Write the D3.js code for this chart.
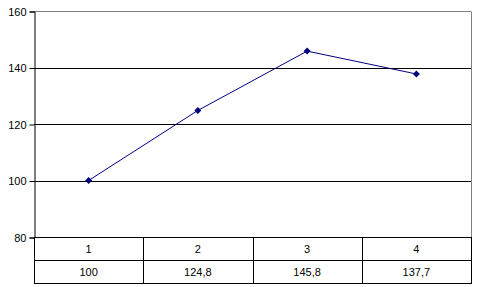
<!DOCTYPE html>
<html>
<head>
<meta charset="utf-8">
<script src="https://cdn.jsdelivr.net/npm/d3@7"></script>
<style>
  body { margin: 0; background: #fff; }
  text { font-family: "Liberation Sans", Arial, sans-serif; font-size: 11px; fill: #000; }
</style>
</head>
<body>
<div class="canvas"></div>
<script>
const categories = ["1", "2", "3", "4"];
const values = [100, 124.8, 145.8, 137.7];
const valueLabels = ["100", "124,8", "145,8", "137,7"];
const yTicks = [80, 100, 120, 140, 160];

const width = 478, height = 287;
const plotLeft = 34, plotRight = 471, plotTop = 11, plotBottom = 237;
const rowH = 23;

const svg = d3.select(".canvas").append("svg")
  .attr("width", width).attr("height", height);

const x = d3.scaleBand().domain(categories).range([plotLeft, plotRight]);
const y = d3.scaleLinear().domain([80, 160]).range([plotBottom, plotTop]);

// gridlines
svg.selectAll("line.grid")
  .data(yTicks.filter(d => d > 80))
  .join("line")
  .attr("class", "grid")
  .attr("x1", plotLeft).attr("x2", plotRight)
  .attr("y1", d => Math.round(y(d)) + 0.5).attr("y2", d => Math.round(y(d)) + 0.5)
  .attr("stroke", d => d === 160 ? "#808080" : "#000")
  .attr("stroke-width", 1);

// right border of plot area
svg.append("line")
  .attr("x1", plotRight + 0.5).attr("x2", plotRight + 0.5)
  .attr("y1", Math.round(y(160)) + 0.5).attr("y2", plotBottom)
  .attr("stroke", "#808080");

// y axis
const yAxis = d3.axisLeft(y).tickValues(yTicks).tickSize(5).tickPadding(3);
const ga = svg.append("g")
  .attr("transform", `translate(${plotLeft + 0.5},0.5)`)
  .call(yAxis);
ga.select(".domain").attr("stroke", "#000");
ga.selectAll(".tick line").attr("stroke", "#000");
ga.selectAll("text").style("font-size", "11px").attr("fill", "#000")
  .style("font-family", "'Liberation Sans', Arial, sans-serif");

// data table
const tb = Math.round(plotBottom);
[0, 1, 2].forEach(r => {
  svg.append("line").attr("x1", plotLeft).attr("x2", plotRight + 1)
    .attr("y1", tb + rowH * r + 0.5).attr("y2", tb + rowH * r + 0.5)
    .attr("stroke", "#000");
});

const dividers = categories.map(c => x(c)).concat([plotRight]);
svg.selectAll("line.div")
  .data(dividers)
  .join("line")
  .attr("class", "div")
  .attr("x1", d => Math.round(d) + 0.5).attr("x2", d => Math.round(d) + 0.5)
  .attr("y1", tb).attr("y2", tb + rowH * 2 + 1)
  .attr("stroke", "#000");

svg.selectAll("text.cat")
  .data(categories)
  .join("text")
  .attr("class", "cat")
  .attr("x", d => x(d) + x.bandwidth() / 2)
  .attr("y", tb + rowH / 2 + 4)
  .attr("text-anchor", "middle")
  .text(d => d);

svg.selectAll("text.val")
  .data(valueLabels)
  .join("text")
  .attr("class", "val")
  .attr("x", (d, i) => x(categories[i]) + x.bandwidth() / 2)
  .attr("y", tb + rowH * 1.5 + 4)
  .attr("text-anchor", "middle")
  .text(d => d);

// line series
const line = d3.line()
  .x((d, i) => x(categories[i]) + x.bandwidth() / 2)
  .y(d => y(d));

svg.append("path")
  .datum(values)
  .attr("d", line)
  .attr("fill", "none")
  .attr("stroke", "#000080")
  .attr("stroke-width", 1);

svg.selectAll("path.marker")
  .data(values)
  .join("path")
  .attr("class", "marker")
  .attr("transform", (d, i) => `translate(${x(categories[i]) + x.bandwidth() / 2},${y(d)})`)
  .attr("d", "M0,-3.5L3.5,0L0,3.5L-3.5,0Z")
  .attr("fill", "#000080");
</script>
</body>
</html>
